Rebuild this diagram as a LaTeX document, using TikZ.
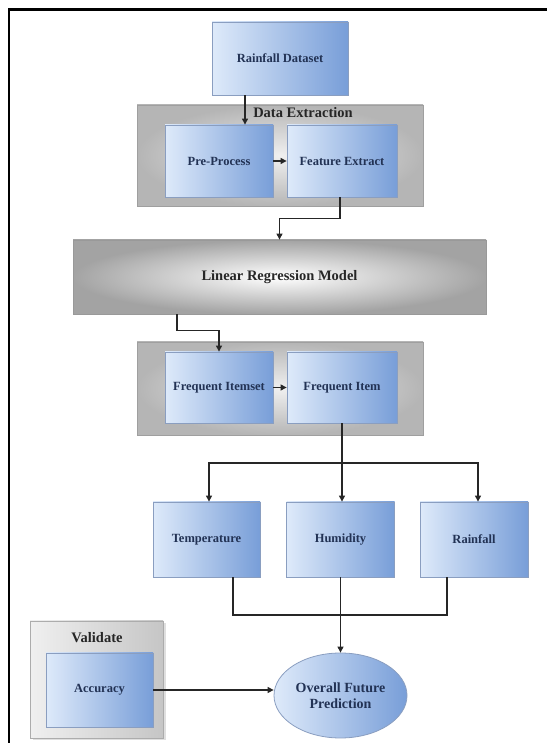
\documentclass[tikz,border=0pt]{standalone}
\usepackage{fontspec}
\setmainfont{Liberation Serif}
\usepackage{tikz}
\usetikzlibrary{shapes.geometric, arrows.meta, positioning, calc, shadows}

\definecolor{boxL}{RGB}{222,234,250}
\definecolor{boxR}{RGB}{120,158,216}
\definecolor{boxEdge}{RGB}{138,158,192}
\definecolor{labelInk}{RGB}{34,50,84}

\tikzset{
    stagebox/.style={rectangle, draw=boxEdge, line width=0.8pt, left color=boxL, right color=boxR,
        font=\fontsize{12.5}{14}\selectfont\bfseries, text=labelInk},
    groupbox/.style={rectangle, draw=gray!75, line width=0.8pt, inner color=gray!12, outer color=gray!58},
    headtext/.style={font=\fontsize{14.5}{16}\selectfont\bfseries, text=black!85},
    arr/.style={draw=black!85, line width=1.1pt, -{Triangle[length=6pt,width=6pt]}},
    link/.style={draw=black!85, line width=1.1pt}
}

\begin{document}
\begin{tikzpicture}[x=1pt, y=1pt]
    \useasboundingbox (0,0) rectangle (547,743);
    % frame
    \draw[line width=2.2pt] (9,0) -- (9,733.5) -- (547,733.5);

    % top part
    \node[stagebox, minimum width=136pt, minimum height=73pt] (dataset) at (280,684.5) {Rainfall Dataset};
    \node[groupbox, minimum width=286pt, minimum height=101pt] (extract) at (280,587.5) {};
    \node[headtext] (extractlbl) at (303,630) {Data Extraction};
    \node[stagebox, minimum width=108pt, minimum height=72pt] (preproc) at (219,582) {Pre-Process};
    \node[stagebox, minimum width=110pt, minimum height=72pt] (featext) at (342,582) {Feature Extract};

    % model
    \node[rectangle, draw=gray!80, line width=0.8pt, inner color=white, outer color=gray!72,
          minimum width=413pt, minimum height=74pt, headtext] (lrm) at (279.5,466) {Linear Regression Model};

    % frequent items
    \node[groupbox, minimum width=286pt, minimum height=93pt] (freq) at (280,354.5) {};
    \node[stagebox, minimum width=108pt, minimum height=71pt] (itemset) at (219,355.5) {Frequent Itemset};
    \node[stagebox, minimum width=110pt, minimum height=71pt] (item) at (342,355.5) {Frequent Item};

    % attributes
    \node[stagebox, minimum width=107pt, minimum height=75pt] (temp) at (206.5,203.5) {Temperature};
    \node[stagebox, minimum width=108pt, minimum height=75pt] (humid) at (340.5,203.5) {Humidity};
    \node[stagebox, minimum width=108pt, minimum height=75pt] (rain) at (474,203.5) {Rainfall};

    % validation and prediction
    \node[rectangle, draw=gray!65, line width=0.8pt, left color=gray!12, right color=gray!45,
          drop shadow={opacity=0.25, shadow xshift=2.5pt, shadow yshift=-2.5pt},
          minimum width=133pt, minimum height=117pt] (validate) at (96.5,63.5) {};
    \node[headtext] (validlbl) at (97,105) {Validate};
    \node[stagebox, minimum width=107pt, minimum height=74pt] (accuracy) at (99.5,53) {Accuracy};
    \node[ellipse, draw=boxEdge, line width=0.8pt, left color=boxL, right color=boxR,
          minimum width=133pt, minimum height=85pt, align=center, inner sep=0pt,
          font=\fontsize{14}{16}\selectfont\bfseries, text=labelInk] (predict) at (340.5,47.5) {Overall Future\\Prediction};

    % connectors
    \draw[arr] ([xshift=-35pt]dataset.south) -- ([xshift=-35pt]dataset.south |- preproc.north);
    \draw[arr] (preproc.east) -- (featext.west);
    \draw[arr] ([xshift=-2pt]featext.south) -- ++(0,-21) -| (lrm.north);
    \draw[arr] ([xshift=-102.5pt]lrm.south) -- ++(0,-16) -| (itemset.north);
    \draw[arr] (itemset.east) -- (item.west);

    \coordinate (split) at (item.south |- 0,280);
    \draw[arr] (item.south) -- (item.south |- humid.north);
    \draw[arr] (split) -| ([xshift=2.5pt]temp.north);
    \draw[arr] (split) -| ([xshift=4pt]rain.north);

    \coordinate (merge) at (humid.south |- 0,128);
    \draw[link] ([xshift=26.5pt]temp.south) |- (merge) -| ([xshift=-27pt]rain.south);
    \draw[arr] (humid.south) -- (predict.north);
    \draw[arr] (accuracy.east) -- (accuracy.east -| predict.west);
\end{tikzpicture}
\end{document}
